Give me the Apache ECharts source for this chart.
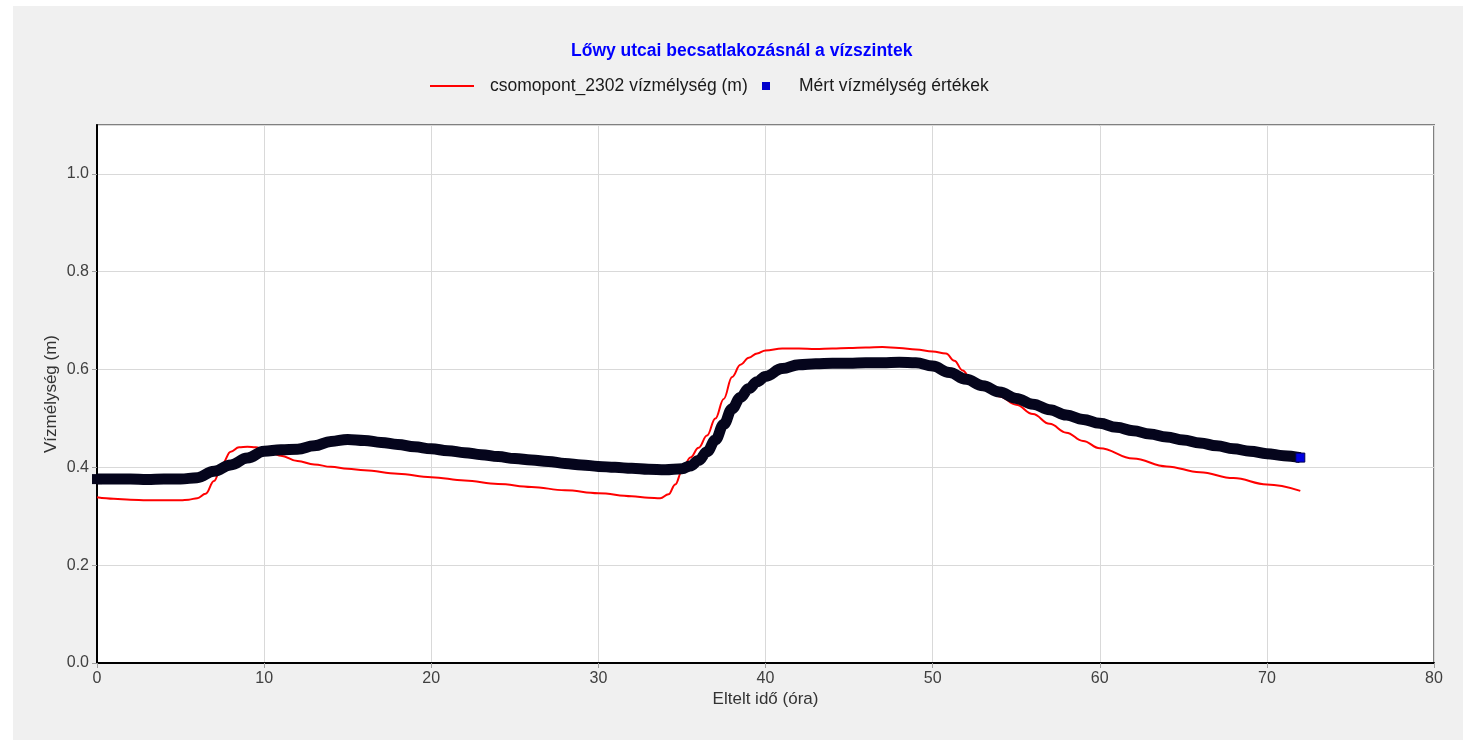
<!DOCTYPE html>
<html>
<head>
<meta charset="utf-8">
<script src="https://cdn.jsdelivr.net/npm/echarts@6/dist/echarts.min.js"></script>
<style>
html,body{margin:0;padding:0;background:#ffffff;}
#chart{position:absolute;left:13px;top:6px;width:1450px;height:734px;}
</style>
</head>
<body>
<div id="chart"></div>
<script>
var titleText = 'Lőwy utcai becsatlakozásnál a vízszintek';
var simName = 'csomopont_2302 vízmélység (m)';
var measName = 'Mért vízmélység értékek';
var xAxisName = 'Eltelt idő (óra)';
var yAxisName = 'Vízmélység (m)';

var simTimes = [0,1,2,3,4,5,5.5,6,6.5,7,7.5,8,8.5,9,9.5,10,11,12,13,14,15,16,18,20,22,24,26,28,30,32,33,33.7,34.2,34.6,35,35.5,36,36.5,37,37.5,38,38.5,39,39.5,40,41,42,43,44,45,46,47,48,49,50,50.8,51.3,51.8,52.3,53,54,55,56,57,58,59,60,62,64,66,68,70,72];
var simValues = [0.339,0.336,0.334,0.333,0.333,0.333,0.334,0.337,0.346,0.372,0.408,0.432,0.441,0.442,0.441,0.436,0.424,0.413,0.406,0.401,0.397,0.394,0.387,0.380,0.373,0.366,0.360,0.353,0.347,0.341,0.338,0.337,0.345,0.365,0.392,0.420,0.440,0.465,0.500,0.540,0.585,0.610,0.624,0.633,0.639,0.643,0.643,0.642,0.643,0.644,0.645,0.646,0.644,0.641,0.637,0.633,0.618,0.598,0.580,0.562,0.545,0.528,0.509,0.489,0.471,0.454,0.439,0.418,0.402,0.390,0.378,0.365,0.352];

var measTimes = [0,1,2,3,4,5,6,7,8,9,10,11,12,13,14,15,16,17,18,19,20,21,22,23,24,25,26,27,28,29,30,31,32,33,34,35,35.5,36,36.5,37,37.5,38,38.5,39,39.5,40,41,42,43,44,45,46,47,48,49,50,51,52,53,54,55,56,57,58,59,60,61,62,63,64,65,66,67,68,69,70,71,72];
var measValues = [0.376,0.376,0.376,0.375,0.376,0.376,0.379,0.392,0.405,0.419,0.433,0.436,0.437,0.444,0.453,0.457,0.455,0.451,0.447,0.442,0.438,0.434,0.430,0.426,0.422,0.418,0.415,0.412,0.408,0.405,0.402,0.400,0.398,0.396,0.395,0.397,0.403,0.414,0.432,0.456,0.488,0.520,0.543,0.561,0.575,0.586,0.602,0.610,0.612,0.613,0.613,0.614,0.614,0.615,0.614,0.607,0.594,0.580,0.567,0.554,0.541,0.529,0.518,0.507,0.498,0.490,0.482,0.475,0.468,0.462,0.456,0.450,0.444,0.438,0.433,0.428,0.424,0.420];

var xTicks = {min: 0, max: 80, interval: 10};
var yTicks = {min: 0, max: 1.1, interval: 0.2};

var FONT = 'Liberation Sans, Arial, sans-serif';

var simData = simTimes.map(function (t, i) { return [t, simValues[i]]; });
var measData = measTimes.map(function (t, i) {
  var item = {value: [t, measValues[i]]};
  if (i === measTimes.length - 1) {
    item.itemStyle = {color: '#0000e0', borderColor: '#000050', borderWidth: 1};
    item.symbolSize = 9;
  } else if (i === 0) {
    item.symbolSize = 10;
  } else {
    item.symbolSize = 0;
  }
  return item;
});

var chart = echarts.init(document.getElementById('chart'), null, {renderer: 'canvas'});
chart.setOption({
  animation: false,
  backgroundColor: '#f0f0f0',
  title: {
    text: titleText,
    left: 553,
    top: 31,
    textStyle: {color: '#0000ff', fontWeight: 'bold', fontSize: 17.5, fontFamily: FONT}
  },
  legend: [
    {
      data: [{name: simName, icon: 'rect'}],
      left: 412,
      top: 66,
      itemWidth: 44,
      itemHeight: 2,
      itemStyle: {color: '#ff0000'},
      textStyle: {color: '#1a1a1a', fontSize: 17.5, fontFamily: FONT, padding: [0, 0, 0, 11]}
    },
    {
      data: [{name: measName, icon: 'path://M0,0L8,0L8,8L0,8Z M31.9,0L32,0L32,0.1Z'}],
      left: 744,
      top: 66,
      itemWidth: 32,
      itemHeight: 8,
      itemStyle: {color: '#0000cc', borderWidth: 0},
      textStyle: {color: '#1a1a1a', fontSize: 17.5, fontFamily: FONT}
    }
  ],
  grid: {
    left: 84, right: 29, top: 119, bottom: 77,
    show: true, backgroundColor: '#ffffff', borderColor: '#808080', borderWidth: 2,
    containLabel: false
  },
  xAxis: {
    type: 'value',
    min: xTicks.min, max: xTicks.max, interval: xTicks.interval,
    name: xAxisName,
    nameLocation: 'middle',
    nameGap: 28,
    nameMoveOverlap: false,
    nameTextStyle: {color: '#333333', fontSize: 17, fontFamily: FONT},
    axisLine: {show: true, onZero: false, lineStyle: {color: '#000000', width: 2}},
    axisTick: {show: true, length: 5, lineStyle: {color: '#a0a0a0'}},
    axisLabel: {color: '#404040', fontSize: 16, fontFamily: FONT, margin: 8},
    splitLine: {show: true, lineStyle: {color: '#d9d9d9', width: 1}}
  },
  yAxis: {
    type: 'value',
    min: yTicks.min, max: yTicks.max, interval: yTicks.interval,
    name: yAxisName,
    nameLocation: 'middle',
    nameGap: 37,
    nameMoveOverlap: false,
    nameTextStyle: {color: '#333333', fontSize: 17, fontFamily: FONT},
    axisLine: {show: true, onZero: false, lineStyle: {color: '#000000', width: 2}},
    axisTick: {show: true, length: 5, lineStyle: {color: '#a0a0a0'}},
    axisLabel: {
      color: '#404040', fontSize: 16, fontFamily: FONT, margin: 8, showMaxLabel: false,
      formatter: function (v) { return v.toFixed(1); }
    },
    splitLine: {show: true, lineStyle: {color: '#d9d9d9', width: 1}}
  },
  series: [
    {
      name: simName,
      type: 'line',
      data: simData,
      symbol: 'none',
      smooth: 0.4,
      smoothMonotone: 'x',
      lineStyle: {color: '#ff0000', width: 2},
      itemStyle: {color: '#ff0000'},
      z: 2
    },
    {
      name: measName,
      type: 'line',
      data: measData,
      symbol: 'rect',
      symbolSize: 10,
      showSymbol: true,
      showAllSymbol: true,
      smooth: 0.4,
      smoothMonotone: 'x',
      lineStyle: {color: '#05051c', width: 11},
      itemStyle: {color: '#05051c', borderWidth: 0},
      z: 3
    }
  ]
});
</script>
</body>
</html>
